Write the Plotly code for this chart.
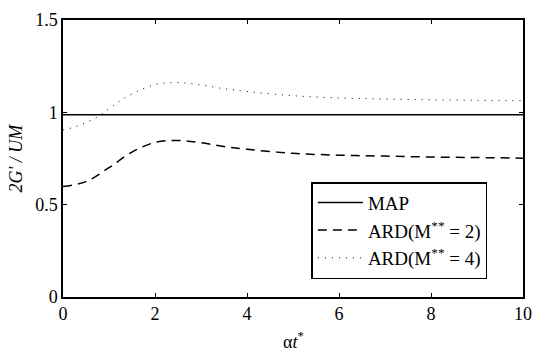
import plotly.graph_objects as go

x_map = [0, 10]
y_map = [0.987, 0.987]

x_ard2 = [0, 0.5, 1, 1.5, 2, 2.5, 3, 3.5, 4, 5, 6, 7, 8, 9, 10]
y_ard2 = [0.598, 0.625, 0.700, 0.785, 0.837, 0.848, 0.835, 0.815, 0.800, 0.778, 0.768, 0.763, 0.758, 0.755, 0.752]

x_ard4 = [0, 0.25, 0.5, 0.75, 1, 1.25, 1.5, 2, 2.5, 3, 3.5, 4, 5, 6, 7, 8, 9, 10]
y_ard4 = [0.905, 0.920, 0.945, 0.975, 1.020, 1.064, 1.100, 1.150, 1.161, 1.148, 1.128, 1.113, 1.090, 1.078, 1.072, 1.068, 1.065, 1.063]

x_ticks = [0, 2, 4, 6, 8, 10]
y_ticks = [0, 0.5, 1, 1.5]
y_ticklabels = ["0", "0.5", "1", "1.5"]

FONT = "Liberation Serif"

fig = go.Figure()
fig.add_trace(go.Scatter(x=x_map, y=y_map, mode="lines", name="MAP",
                         line=dict(color="black", width=1.5)))
fig.add_trace(go.Scatter(x=x_ard2, y=y_ard2, mode="lines", name="ARD(M<sup>**</sup> = 2)",
                         line=dict(color="black", width=1.5, dash="9px,6px", shape="spline", smoothing=1.0)))
fig.add_trace(go.Scatter(x=x_ard4, y=y_ard4, mode="lines", name="ARD(M<sup>**</sup> = 4)",
                         line=dict(color="black", width=1, dash="1px,6px", shape="spline", smoothing=1.0)))

axis_common = dict(showline=True, linecolor="black", linewidth=1.5, mirror="ticks",
                   ticks="inside", ticklen=4, tickcolor="black", tickwidth=1,
                   showgrid=False, zeroline=False,
                   tickfont=dict(family=FONT, size=18, color="black"))

fig.update_xaxes(range=[0, 10], tickvals=x_ticks, **axis_common)
fig.update_yaxes(range=[0, 1.5], tickvals=y_ticks, ticktext=y_ticklabels, **axis_common)

fig.update_layout(
    width=542, height=353,
    margin=dict(l=63, r=10, t=10, b=56),
    paper_bgcolor="white", plot_bgcolor="white",
    font=dict(family=FONT, size=18, color="black"),
    showlegend=True,
    legend=dict(x=0.54, y=0.415, xanchor="left", yanchor="top",
                bgcolor="white", bordercolor="black", borderwidth=1.5,
                font=dict(family=FONT, size=19, color="black"),
                tracegroupgap=0, itemwidth=45),
    annotations=[
        dict(text="<i>2G' / UM</i>", x=0, y=0.5, xref="paper", yref="paper",
             xanchor="center", yanchor="middle", textangle=-90, showarrow=False,
             font=dict(family=FONT, size=18, color="black"), xshift=-48),
        dict(text="α<i>t</i><sup>*</sup>", x=0.5, y=0, xref="paper", yref="paper",
             xanchor="center", yanchor="top", showarrow=False, yshift=-30,
             font=dict(family=FONT, size=18, color="black")),
    ],
)

fig.write_html("out.html")
